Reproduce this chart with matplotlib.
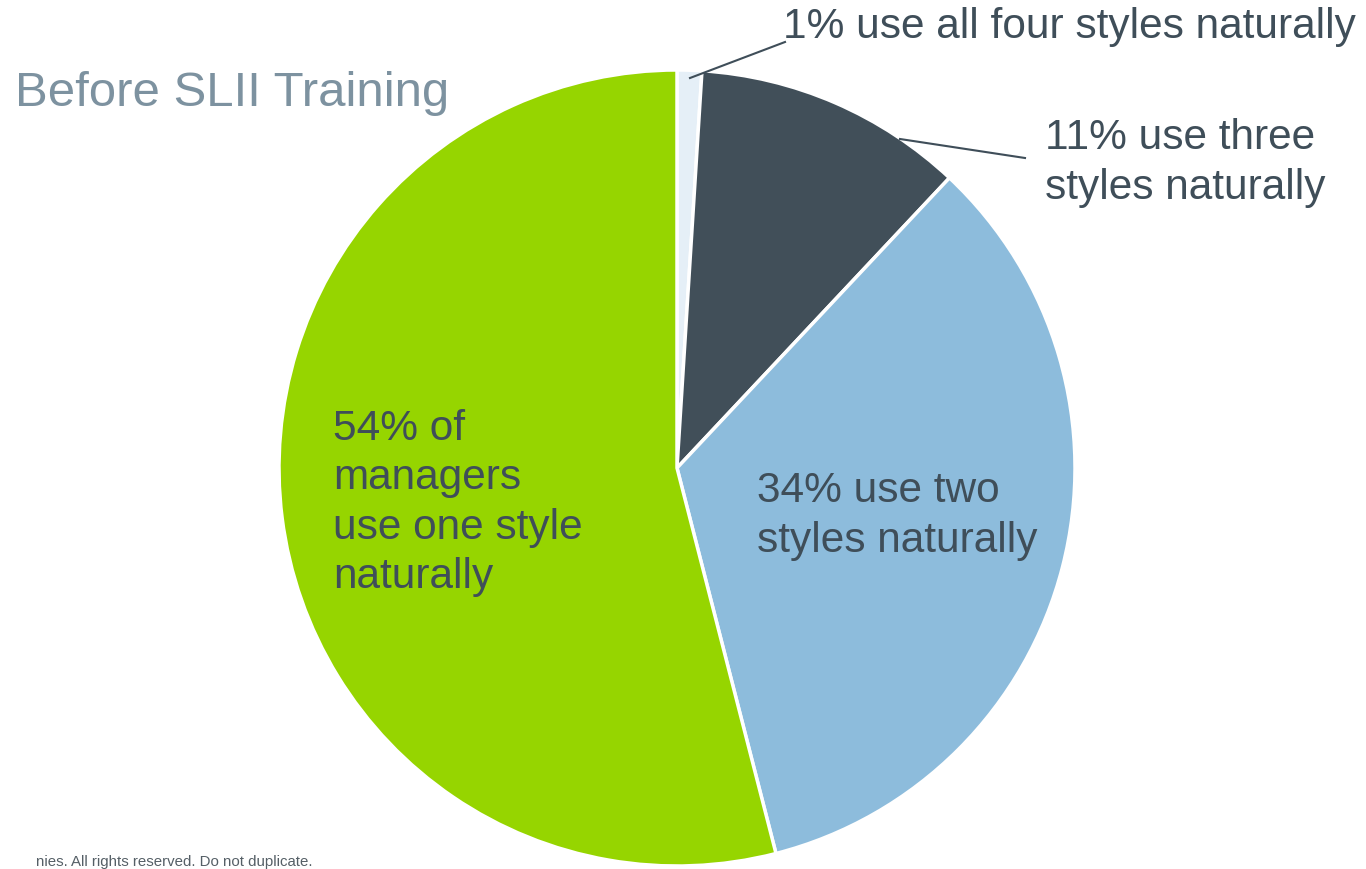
import matplotlib
matplotlib.use("Agg")
import matplotlib.pyplot as plt

# Datos del gráfico
shares = [1, 11, 34, 54]
labels = ["1% use all four styles naturally",
          "11% use three\nstyles naturally",
          "34% use two\nstyles naturally",
          "54% of\nmanagers\nuse one style\nnaturally"]
colors = ["#e5eff7", "#414f59", "#8dbcdc", "#96d500"]
title = "Before SLII Training"
footer = "nies. All rights reserved. Do not duplicate."

W, H = 1366, 869
plt.rcParams['font.family'] = ['Liberation Sans', 'DejaVu Sans']

fig = plt.figure(figsize=(W / 100, H / 100), dpi=100)
ax = fig.add_axes([0, 0, 1, 1])
ax.set_xlim(0, W)
ax.set_ylim(0, H)
ax.set_aspect('equal')
ax.axis('off')

def py(y):
    # coordenada de imagen (desde arriba) a coordenada de datos
    return H - y

cx, cy, r = 677, py(468), 398
ax.pie(shares, colors=colors, startangle=90, counterclock=False,
       center=(cx, cy), radius=r,
       wedgeprops=dict(edgecolor="white", linewidth=2.5))
ax.set_xlim(0, W)
ax.set_ylim(0, H)

txt = "#3f4e59"
fs = 30.5
ls = 1.31

ax.text(15, py(94), title, fontsize=35.4, color="#7d92a0", va="center", ha="left")

ax.text(783, py(27), labels[0], fontsize=fs, color=txt, va="center", ha="left")
ax.plot([690, 785], [py(78), py(42)], color=txt, lw=1.5)

ax.text(1045, py(163), labels[1], fontsize=fs, color=txt, va="center", ha="left",
        linespacing=ls)
ax.plot([900, 1025], [py(139), py(158)], color=txt, lw=1.5)

ax.text(757, py(516), labels[2], fontsize=fs, color=txt, va="center", ha="left",
        linespacing=ls)

ax.text(333, py(503), labels[3], fontsize=fs, color=txt, va="center", ha="left",
        linespacing=ls)

ax.text(36, py(866), footer, fontsize=10.8, color="#555f66", va="baseline", ha="left")

fig.savefig("out.png", dpi=100)
